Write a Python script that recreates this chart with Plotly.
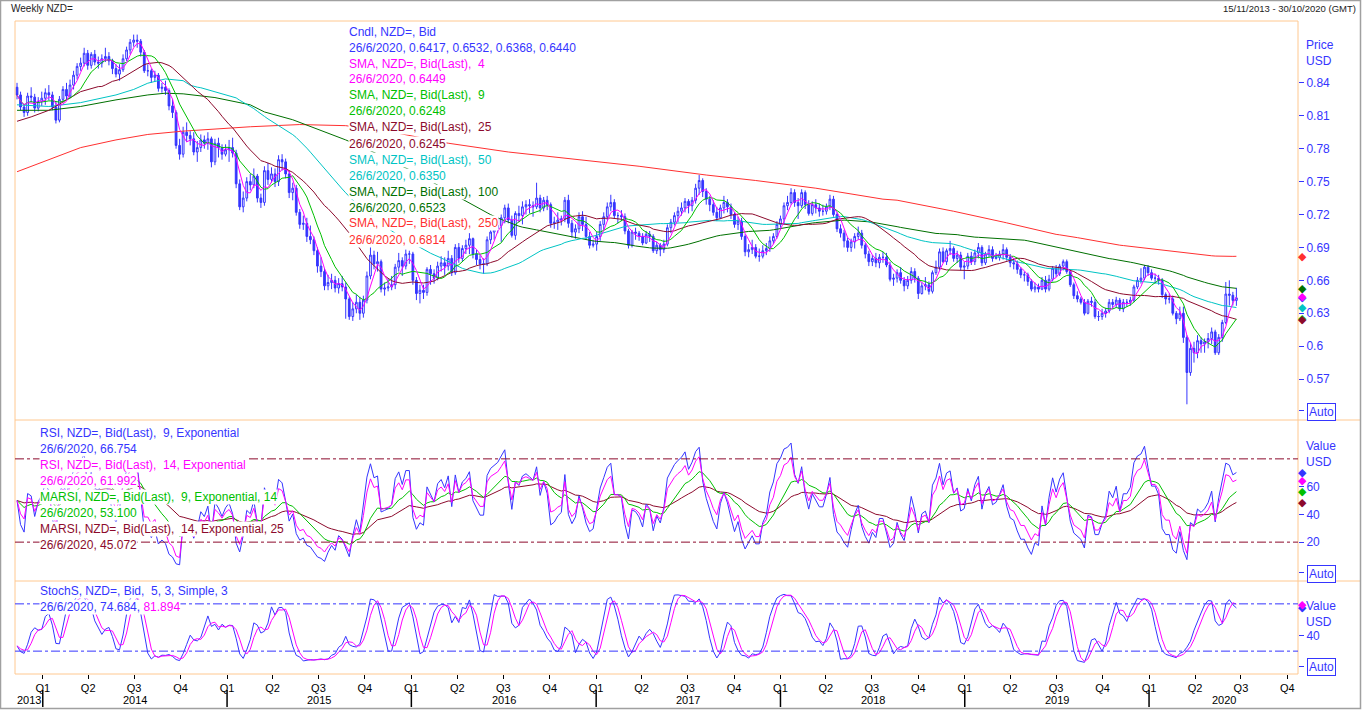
import numpy as np
import pandas as pd
import plotly.graph_objects as go
from plotly.subplots import make_subplots

# weekly NZD= bars, weeks starting Monday 11/11/2013
first_week = "2013-11-11"
first_open = 0.836

closes = [
    0.829, 0.818, 0.813, 0.828, 0.827, 0.817, 0.823, 0.826, 0.831, 0.829,
    0.818, 0.806, 0.825, 0.834, 0.828, 0.838, 0.847, 0.855, 0.858, 0.867,
    0.856, 0.866, 0.859, 0.858, 0.862, 0.864, 0.860, 0.853, 0.848, 0.852,
    0.862, 0.870, 0.877, 0.879, 0.878, 0.868, 0.851, 0.851, 0.845, 0.847,
    0.835, 0.836, 0.833, 0.819, 0.813, 0.783, 0.775, 0.795, 0.792, 0.789,
    0.777, 0.781, 0.788, 0.785, 0.789, 0.768, 0.785, 0.781, 0.775, 0.779,
    0.781, 0.776, 0.748, 0.727, 0.735, 0.750, 0.747, 0.755, 0.735, 0.731,
    0.760, 0.752, 0.757, 0.750, 0.770, 0.768, 0.757, 0.740, 0.744, 0.722,
    0.711, 0.712, 0.700, 0.697, 0.687, 0.673, 0.668, 0.655, 0.658, 0.660,
    0.653, 0.657, 0.654, 0.643, 0.627, 0.634, 0.640, 0.630, 0.642, 0.664,
    0.683, 0.675, 0.677, 0.652, 0.653, 0.654, 0.656, 0.672, 0.678, 0.673,
    0.684, 0.684, 0.660, 0.648, 0.651, 0.649, 0.670, 0.666, 0.662, 0.673,
    0.676, 0.673, 0.680, 0.667, 0.690, 0.680, 0.689, 0.692, 0.698, 0.684,
    0.679, 0.675, 0.675, 0.697, 0.704, 0.707, 0.710, 0.717, 0.726, 0.715,
    0.701, 0.721, 0.719, 0.727, 0.729, 0.728, 0.727, 0.735, 0.726, 0.733,
    0.729, 0.712, 0.713, 0.715, 0.716, 0.733, 0.712, 0.704, 0.707, 0.718,
    0.711, 0.700, 0.692, 0.693, 0.700, 0.711, 0.718, 0.727, 0.731, 0.719,
    0.719, 0.718, 0.705, 0.692, 0.704, 0.703, 0.700, 0.694, 0.702, 0.700,
    0.687, 0.692, 0.688, 0.693, 0.708, 0.713, 0.719, 0.723, 0.726, 0.732,
    0.728, 0.733, 0.744, 0.751, 0.741, 0.734, 0.729, 0.722, 0.717, 0.726,
    0.731, 0.727, 0.720, 0.711, 0.714, 0.700, 0.686, 0.688, 0.690, 0.682,
    0.682, 0.687, 0.689, 0.696, 0.700, 0.711, 0.716, 0.728, 0.731, 0.740,
    0.731, 0.728, 0.740, 0.729, 0.721, 0.729, 0.726, 0.723, 0.723, 0.727,
    0.734, 0.720, 0.707, 0.703, 0.696, 0.690, 0.695, 0.700, 0.703, 0.692,
    0.684, 0.677, 0.680, 0.676, 0.681, 0.681, 0.674, 0.661, 0.662, 0.667,
    0.660, 0.655, 0.660, 0.668, 0.662, 0.648, 0.655, 0.656, 0.650, 0.667,
    0.672, 0.686, 0.677, 0.687, 0.689, 0.680, 0.683, 0.672, 0.673, 0.682,
    0.677, 0.685, 0.690, 0.676, 0.684, 0.688, 0.680, 0.681, 0.684, 0.688,
    0.681, 0.676, 0.675, 0.670, 0.665, 0.665, 0.659, 0.652, 0.654, 0.652,
    0.660, 0.652, 0.661, 0.671, 0.666, 0.673, 0.677, 0.668, 0.656, 0.646,
    0.643, 0.640, 0.630, 0.641, 0.640, 0.627, 0.627, 0.630, 0.632, 0.640,
    0.638, 0.642, 0.634, 0.640, 0.640, 0.642, 0.654, 0.660, 0.662, 0.672,
    0.667, 0.662, 0.662, 0.660, 0.647, 0.643, 0.643, 0.630, 0.625, 0.630,
    0.608, 0.576, 0.598, 0.594, 0.605, 0.602, 0.604, 0.607, 0.613, 0.594,
    0.608, 0.6216, 0.6475, 0.6464, 0.6417, 0.6440,
]

highs = [
    0.840, 0.832, 0.821, 0.831, 0.836, 0.830, 0.827, 0.832, 0.835, 0.838,
    0.832, 0.823, 0.828, 0.837, 0.840, 0.843, 0.851, 0.858, 0.863, 0.872,
    0.870, 0.868, 0.870, 0.864, 0.866, 0.872, 0.868, 0.862, 0.857, 0.857,
    0.866, 0.873, 0.880, 0.884, 0.884, 0.880, 0.870, 0.857, 0.853, 0.851,
    0.849, 0.840, 0.842, 0.835, 0.825, 0.815, 0.789, 0.800, 0.804, 0.796,
    0.795, 0.787, 0.793, 0.792, 0.795, 0.791, 0.789, 0.790, 0.784, 0.784,
    0.788, 0.790, 0.779, 0.752, 0.741, 0.754, 0.757, 0.762, 0.757, 0.739,
    0.764, 0.767, 0.763, 0.762, 0.774, 0.775, 0.771, 0.760, 0.749, 0.747,
    0.725, 0.719, 0.717, 0.710, 0.700, 0.690, 0.681, 0.671, 0.665, 0.666,
    0.664, 0.662, 0.664, 0.658, 0.645, 0.640, 0.647, 0.645, 0.646, 0.668,
    0.691, 0.687, 0.686, 0.679, 0.658, 0.662, 0.664, 0.675, 0.685, 0.681,
    0.688, 0.687, 0.686, 0.663, 0.656, 0.656, 0.672, 0.674, 0.670, 0.677,
    0.682, 0.681, 0.687, 0.683, 0.693, 0.694, 0.692, 0.697, 0.703, 0.699,
    0.688, 0.683, 0.680, 0.700, 0.707, 0.711, 0.718, 0.720, 0.729, 0.730,
    0.719, 0.723, 0.728, 0.732, 0.733, 0.734, 0.732, 0.749, 0.738, 0.736,
    0.737, 0.731, 0.718, 0.722, 0.719, 0.736, 0.738, 0.715, 0.711, 0.722,
    0.723, 0.718, 0.704, 0.697, 0.704, 0.714, 0.722, 0.731, 0.738, 0.734,
    0.722, 0.724, 0.721, 0.707, 0.706, 0.708, 0.705, 0.703, 0.705, 0.705,
    0.702, 0.695, 0.694, 0.697, 0.711, 0.716, 0.722, 0.727, 0.731, 0.735,
    0.734, 0.736, 0.748, 0.756, 0.753, 0.744, 0.737, 0.733, 0.727, 0.729,
    0.737, 0.734, 0.730, 0.722, 0.718, 0.717, 0.702, 0.693, 0.697, 0.693,
    0.689, 0.692, 0.694, 0.700, 0.703, 0.714, 0.719, 0.731, 0.737, 0.744,
    0.743, 0.735, 0.743, 0.742, 0.733, 0.732, 0.734, 0.730, 0.729, 0.730,
    0.738, 0.737, 0.722, 0.711, 0.706, 0.699, 0.698, 0.703, 0.709, 0.706,
    0.694, 0.687, 0.683, 0.685, 0.684, 0.686, 0.685, 0.677, 0.666, 0.670,
    0.672, 0.663, 0.664, 0.672, 0.671, 0.664, 0.658, 0.663, 0.659, 0.669,
    0.678, 0.689, 0.690, 0.689, 0.696, 0.691, 0.687, 0.686, 0.677, 0.685,
    0.686, 0.688, 0.694, 0.692, 0.686, 0.692, 0.691, 0.685, 0.687, 0.693,
    0.690, 0.684, 0.680, 0.678, 0.672, 0.668, 0.667, 0.661, 0.658, 0.657,
    0.663, 0.664, 0.665, 0.673, 0.674, 0.675, 0.679, 0.679, 0.670, 0.658,
    0.650, 0.645, 0.643, 0.643, 0.645, 0.643, 0.632, 0.634, 0.635, 0.643,
    0.643, 0.645, 0.644, 0.643, 0.643, 0.645, 0.656, 0.663, 0.671, 0.674,
    0.674, 0.670, 0.666, 0.665, 0.662, 0.649, 0.648, 0.646, 0.632, 0.636,
    0.636, 0.610, 0.603, 0.604, 0.610, 0.608, 0.607, 0.612, 0.617, 0.615,
    0.611, 0.624, 0.6585, 0.660, 0.6495, 0.6532,
]

lows = [
    0.825, 0.815, 0.809, 0.810, 0.822, 0.813, 0.814, 0.819, 0.820, 0.824,
    0.815, 0.803, 0.804, 0.822, 0.825, 0.826, 0.834, 0.843, 0.851, 0.855,
    0.852, 0.853, 0.856, 0.853, 0.854, 0.859, 0.856, 0.848, 0.845, 0.842,
    0.850, 0.860, 0.866, 0.873, 0.872, 0.864, 0.849, 0.846, 0.840, 0.841,
    0.832, 0.831, 0.829, 0.815, 0.808, 0.780, 0.770, 0.772, 0.786, 0.783,
    0.774, 0.768, 0.777, 0.780, 0.779, 0.763, 0.765, 0.772, 0.770, 0.773,
    0.768, 0.772, 0.744, 0.724, 0.722, 0.732, 0.742, 0.744, 0.731, 0.726,
    0.728, 0.747, 0.749, 0.745, 0.746, 0.760, 0.753, 0.735, 0.733, 0.719,
    0.707, 0.706, 0.695, 0.693, 0.683, 0.667, 0.663, 0.651, 0.651, 0.652,
    0.649, 0.648, 0.650, 0.625, 0.624, 0.623, 0.630, 0.624, 0.626, 0.639,
    0.661, 0.670, 0.668, 0.649, 0.646, 0.650, 0.651, 0.652, 0.668, 0.664,
    0.670, 0.675, 0.656, 0.642, 0.639, 0.643, 0.646, 0.656, 0.657, 0.660,
    0.668, 0.665, 0.669, 0.664, 0.665, 0.676, 0.677, 0.684, 0.684, 0.680,
    0.674, 0.670, 0.666, 0.673, 0.693, 0.697, 0.703, 0.695, 0.712, 0.712,
    0.699, 0.697, 0.713, 0.711, 0.720, 0.721, 0.718, 0.725, 0.722, 0.723,
    0.724, 0.708, 0.707, 0.706, 0.710, 0.713, 0.708, 0.699, 0.698, 0.703,
    0.705, 0.697, 0.689, 0.690, 0.687, 0.696, 0.706, 0.715, 0.723, 0.716,
    0.712, 0.714, 0.702, 0.689, 0.690, 0.697, 0.696, 0.692, 0.693, 0.695,
    0.685, 0.684, 0.682, 0.685, 0.691, 0.703, 0.710, 0.713, 0.719, 0.722,
    0.721, 0.723, 0.730, 0.738, 0.736, 0.729, 0.723, 0.719, 0.714, 0.716,
    0.721, 0.722, 0.716, 0.708, 0.706, 0.697, 0.682, 0.681, 0.684, 0.680,
    0.677, 0.680, 0.683, 0.686, 0.693, 0.698, 0.708, 0.711, 0.724, 0.729,
    0.727, 0.716, 0.726, 0.725, 0.719, 0.719, 0.721, 0.718, 0.719, 0.720,
    0.724, 0.718, 0.704, 0.699, 0.690, 0.686, 0.686, 0.689, 0.697, 0.689,
    0.680, 0.673, 0.673, 0.672, 0.671, 0.676, 0.672, 0.659, 0.655, 0.658,
    0.657, 0.650, 0.652, 0.657, 0.658, 0.643, 0.647, 0.651, 0.647, 0.648,
    0.665, 0.669, 0.676, 0.674, 0.683, 0.677, 0.676, 0.669, 0.661, 0.670,
    0.674, 0.674, 0.680, 0.673, 0.674, 0.681, 0.677, 0.679, 0.678, 0.679,
    0.678, 0.672, 0.670, 0.666, 0.662, 0.659, 0.655, 0.650, 0.649, 0.649,
    0.651, 0.649, 0.650, 0.659, 0.663, 0.664, 0.669, 0.666, 0.654, 0.643,
    0.640, 0.638, 0.628, 0.629, 0.636, 0.625, 0.623, 0.624, 0.626, 0.630,
    0.634, 0.635, 0.632, 0.631, 0.636, 0.637, 0.640, 0.652, 0.657, 0.660,
    0.664, 0.660, 0.657, 0.656, 0.644, 0.638, 0.639, 0.628, 0.620, 0.623,
    0.603, 0.547, 0.573, 0.585, 0.589, 0.594, 0.594, 0.598, 0.602, 0.592,
    0.592, 0.604, 0.620, 0.637, 0.637, 0.6368,
]

# long averages need history from before the chart: values read off the
# picture for the weeks before each window is full (week index, value)
sma25_lead_weeks = [0, 4, 9, 14, 18, 23]
sma25_lead = [0.805, 0.809, 0.815, 0.8245, 0.832, 0.8366]
sma50_lead_weeks = [0, 9, 18, 28, 33, 37, 42, 47]
sma50_lead = [0.820, 0.8185, 0.822, 0.829, 0.834, 0.8397, 0.8436, 0.842]
sma100_lead_weeks = [0, 9, 18, 28, 37, 42, 47, 56, 66, 70, 78, 88, 93]
sma100_lead = [0.815, 0.815, 0.8185, 0.8245, 0.829, 0.8306, 0.830, 0.8266,
               0.820, 0.8135, 0.8064, 0.794, 0.788]
sma250_lead_weeks = [0, 9, 18, 28, 37, 47, 56, 66, 80, 93, 108, 122, 139,
                     160, 176, 195, 209, 226, 245]
sma250_lead = [0.759, 0.770, 0.781, 0.788, 0.793, 0.796, 0.798, 0.800, 0.802,
               0.801, 0.794, 0.785, 0.777, 0.770, 0.764, 0.756, 0.751, 0.744,
               0.734]

price_ticks = [0.57, 0.6, 0.63, 0.66, 0.69, 0.72, 0.75, 0.78, 0.81, 0.84]

price_legend = [
    ("Cndl, NZD=, Bid", "blue"),
    ("26/6/2020, 0.6417, 0.6532, 0.6368, 0.6440", "blue"),
    ("SMA, NZD=, Bid(Last),  4", "magenta"),
    ("26/6/2020, 0.6449", "magenta"),
    ("SMA, NZD=, Bid(Last),  9", "green"),
    ("26/6/2020, 0.6248", "green"),
    ("SMA, NZD=, Bid(Last),  25", "maroon"),
    ("26/6/2020, 0.6245", "maroon"),
    ("SMA, NZD=, Bid(Last),  50", "cyan"),
    ("26/6/2020, 0.6350", "cyan"),
    ("SMA, NZD=, Bid(Last),  100", "dkgreen"),
    ("26/6/2020, 0.6523", "dkgreen"),
    ("SMA, NZD=, Bid(Last),  250", "red"),
    ("26/6/2020, 0.6814", "red"),
]
rsi_legend = [
    ("RSI, NZD=, Bid(Last),  9, Exponential", "blue"),
    ("26/6/2020, 66.754", "blue"),
    ("RSI, NZD=, Bid(Last),  14, Exponential", "magenta"),
    ("26/6/2020, 61.992", "magenta"),
    ("MARSI, NZD=, Bid(Last),  9, Exponential, 14", "green"),
    ("26/6/2020, 53.100", "green"),
    ("MARSI, NZD=, Bid(Last),  14, Exponential, 25", "maroon"),
    ("26/6/2020, 45.072", "maroon"),
]

C = dict(blue="#3535ff", magenta="#ff00ff", green="#00c000", maroon="#8c0a2c",
         cyan="#00c4c4", dkgreen="#007000", red="#ff3030")
ORANGE = "#ffc890"
FONT = "Liberation Sans, Arial, sans-serif"

# geometry of the plot box in pixels
W, H = 1362, 710
L, R, T, B = 15, 1298, 21, 674


def px(x):
    return (x - L) / (R - L)


def py(y):
    return 1 - (y - T) / (B - T)


dates = pd.date_range(first_week, periods=len(closes), freq="7D")
close = pd.Series(closes, index=dates)
high = pd.Series(highs, index=dates)
low = pd.Series(lows, index=dates)
opens = [first_open] + closes[:-1]  # FX weekly bars open at prior close


def sma_line(n, lead_weeks, lead_vals):
    full = close.rolling(n).mean()
    x = list(dates[lead_weeks]) + list(dates[n - 1:])
    y = list(lead_vals) + list(full.iloc[n - 1:])
    return x, y


def rsi(s, n):
    # exponential RSI, gains and losses start from a neutral split
    d = s.diff().fillna(0).to_numpy()
    a = 2.0 / (n + 1)
    up = dn = np.abs(d[1:n + 1]).mean() / 2
    out = []
    for v in d:
        up = up + a * (max(v, 0) - up)
        dn = dn + a * (max(-v, 0) - dn)
        out.append(100 * up / (up + dn))
    return pd.Series(out, index=s.index)


rsi9 = rsi(close, 9)
rsi14 = rsi(close, 14)
marsi9 = rsi9.ewm(span=14, adjust=False).mean()
marsi14 = rsi14.ewm(span=25, adjust=False).mean()

hh = high.rolling(5, min_periods=1).max()
ll = low.rolling(5, min_periods=1).min()
fast_k = 100 * (close - ll) / (hh - ll)
slow_k = fast_k.rolling(3, min_periods=1).mean()
slow_d = slow_k.rolling(3, min_periods=1).mean()

fig = make_subplots(rows=3, cols=1, shared_xaxes=True, vertical_spacing=0)

fig.add_trace(go.Candlestick(
    x=dates, open=opens, high=highs, low=lows, close=closes,
    increasing=dict(line=dict(color=C["blue"], width=1), fillcolor="white"),
    decreasing=dict(line=dict(color=C["blue"], width=1), fillcolor=C["blue"]),
    whiskerwidth=0, showlegend=False,
), row=1, col=1)

sma4 = close.rolling(4, min_periods=1).mean()
sma9 = close.rolling(9, min_periods=1).mean()
lines = [
    (sma_line(250, sma250_lead_weeks, sma250_lead), "red"),
    (sma_line(100, sma100_lead_weeks, sma100_lead), "dkgreen"),
    (sma_line(50, sma50_lead_weeks, sma50_lead), "cyan"),
    (sma_line(25, sma25_lead_weeks, sma25_lead), "maroon"),
    ((dates, sma9), "green"),
    ((dates, sma4), "magenta"),
]
last_vals = {}
for (x, y), col in lines:
    fig.add_trace(go.Scatter(x=x, y=y, mode="lines", showlegend=False,
                             line=dict(color=C[col], width=1)), row=1, col=1)
    last_vals[col] = list(y)[-1]

for s, col in [(marsi14, "maroon"), (marsi9, "green"), (rsi9, "blue"), (rsi14, "magenta")]:
    fig.add_trace(go.Scatter(x=dates, y=s, mode="lines", showlegend=False,
                             line=dict(color=C[col], width=1)), row=2, col=1)

for s, col in [(slow_k, "blue"), (slow_d, "magenta")]:
    fig.add_trace(go.Scatter(x=dates, y=s, mode="lines", showlegend=False,
                             line=dict(color=C[col], width=1)), row=3, col=1)

x_range = [pd.Timestamp("2013-11-07"), pd.Timestamp("2020-10-22")]
quarters = pd.date_range("2014-01-01", "2020-10-01", freq="QS")
qtext = ["Q%d" % q.quarter for q in quarters]

fig.update_xaxes(range=x_range, showgrid=False, zeroline=False, showline=False,
                 rangeslider_visible=False, showticklabels=False, ticks="")
fig.update_xaxes(row=3, col=1, tickmode="array", tickvals=quarters, ticktext=qtext,
                 showticklabels=True, ticks="outside", ticklen=4, tickcolor="black",
                 tickfont=dict(family=FONT, size=11, color="black"))

axis_common = dict(side="right", showgrid=False, zeroline=False, showline=False,
                   ticks="outside", ticklen=5, tickcolor=C["blue"],
                   tickfont=dict(family=FONT, size=12, color=C["blue"]))
fig.update_layout(
    width=W, height=H,
    margin=dict(l=L, r=W - R, t=T, b=H - B),
    paper_bgcolor="white", plot_bgcolor="white",
    showlegend=False,
    yaxis=dict(domain=[py(420), 1], range=[0.5327, 0.8964], tickmode="array",
               tickvals=price_ticks + [0.541], ticktext=[str(v) for v in price_ticks] + [""],
               **axis_common),
    yaxis2=dict(domain=[py(581), py(420)], range=[-8, 108], tickmode="array",
                tickvals=[20, 40, 60, -2], ticktext=["20", "40", "60", ""], **axis_common),
    yaxis3=dict(domain=[0, py(581)], range=[-9, 109], tickmode="array",
                tickvals=[40, 1], ticktext=["40", ""], **axis_common),
)

shapes = []
# panel frame and separators
shapes.append(dict(type="rect", xref="paper", yref="paper", x0=0, x1=1, y0=0, y1=1,
                   line=dict(color=ORANGE, width=1)))
for ysep in (420, 581):
    shapes.append(dict(type="line", xref="paper", yref="paper", x0=0, x1=px(1360),
                       y0=py(ysep), y1=py(ysep), line=dict(color=ORANGE, width=1)))
# reference levels
for lvl in (80, 20):
    shapes.append(dict(type="line", xref="paper", yref="y2", x0=0, x1=1, y0=lvl, y1=lvl,
                       line=dict(color=C["maroon"], width=1, dash="dashdot")))
    shapes.append(dict(type="line", xref="paper", yref="y3", x0=0, x1=1, y0=lvl, y1=lvl,
                       line=dict(color=C["blue"], width=1, dash="dashdot")))
# year boundary ticks
for yr in range(2014, 2021):
    shapes.append(dict(type="line", xref="x3", yref="paper",
                       x0=pd.Timestamp(f"{yr}-01-01"), x1=pd.Timestamp(f"{yr}-01-01"),
                       y0=py(690), y1=py(707), line=dict(color="black", width=1.5)))
# window frame
shapes.append(dict(type="rect", xref="paper", yref="paper", x0=px(0.5), x1=px(1360.5),
                   y0=py(708.5), y1=py(0.5), line=dict(color="#a0a0a0", width=1.5)))
fig.update_layout(shapes=shapes)

ann = []


def text(x, y, s, color, size=12, xanchor="left", bg="white", xref="paper"):
    ann.append(dict(x=x, y=py(y), xref=xref, yref="paper", text=s, showarrow=False,
                    xanchor=xanchor, yanchor="middle", bgcolor=bg, borderpad=0,
                    font=dict(family=FONT, size=size, color=color)))


for k, (s, col) in enumerate(price_legend):
    text(px(348), 31.5 + 16 * k, s, C[col])
for k, (s, col) in enumerate(rsi_legend):
    text(px(39), 433 + 16 * k, s, C[col])
text(px(39), 591, "StochS, NZD=, Bid,  5, 3, Simple, 3", C["blue"])
text(px(39), 607, '26/6/2020, 74.684, <span style="color:%s">81.894</span>' % C["magenta"],
     C["blue"])

text(px(10), 9, "Weekly NZD=", "#222", size=10, bg=None)
text(px(1357), 9, "15/11/2013 - 30/10/2020 (GMT)", "#222", size=9.5, xanchor="right", bg=None)

for lbl, y in [("Price", 45), ("USD", 61), ("Value", 446), ("USD", 462),
               ("Value", 606), ("USD", 622)]:
    text(px(1305), y, lbl, C["blue"], bg=None)
for y in (412, 574, 667):
    ann.append(dict(x=px(1307), y=py(y), xref="paper", yref="paper", text="Auto",
                    showarrow=False, xanchor="left", yanchor="middle", bgcolor="white",
                    bordercolor=C["blue"], borderwidth=1, borderpad=1,
                    font=dict(family=FONT, size=12, color=C["blue"])))

# last-value diamonds in the right margin, placed on each panel's value scale
marks = [
    ("y", [("blue", closes[-1]), ("red", last_vals["red"]), ("dkgreen", last_vals["dkgreen"]),
           ("magenta", last_vals["magenta"]), ("cyan", last_vals["cyan"]),
           ("green", last_vals["green"]), ("maroon", last_vals["maroon"])]),
    ("y2", [("blue", rsi9.iloc[-1]), ("magenta", rsi14.iloc[-1]),
            ("green", marsi9.iloc[-1]), ("maroon", marsi14.iloc[-1])]),
    ("y3", [("blue", slow_k.iloc[-1]), ("magenta", slow_d.iloc[-1])]),
]
for yref, items in marks:
    for col, v in items:
        ann.append(dict(x=px(1302.5), y=float(v), xref="paper", yref=yref, text="\u25c6",
                        showarrow=False, xanchor="center", yanchor="middle",
                        font=dict(family="DejaVu Sans", size=11, color=C[col])))

# year labels centred on the visible part of each year
for yr in range(2013, 2021):
    a = max(pd.Timestamp(f"{yr}-01-01"), x_range[0])
    b = min(pd.Timestamp(f"{yr + 1}-01-01"), x_range[1])
    mid = a + (b - a) / 2
    ann.append(dict(x=mid, y=py(700), xref="x3", yref="paper", text=str(yr),
                    showarrow=False, xanchor="center", yanchor="middle",
                    font=dict(family=FONT, size=11, color="black")))

fig.update_layout(annotations=ann)
fig.write_html("out.html", config={"displayModeBar": False},
               post_script="document.body.style.margin='0';")
